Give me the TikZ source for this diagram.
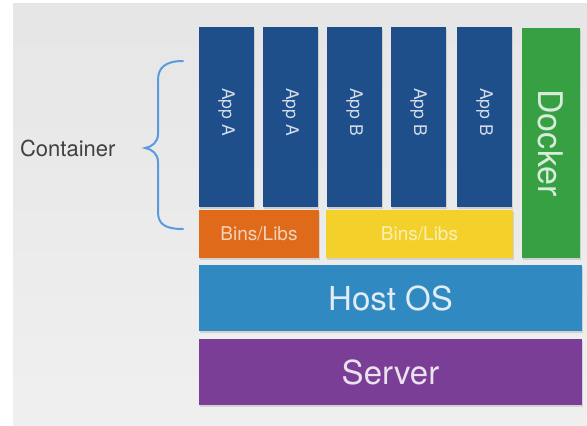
\documentclass[tikz,border=0pt]{standalone}
\usepackage{fontspec}
\setmainfont{TeX Gyre Heros}
\usetikzlibrary{positioning,shadows}
\definecolor{appblue}{HTML}{1E4F8A}
\definecolor{dockgreen}{HTML}{36A043}
\definecolor{libsorange}{HTML}{DE6A1A}
\definecolor{libsyellow}{HTML}{F4D12A}
\definecolor{hostblue}{HTML}{3189C1}
\definecolor{serverpurple}{HTML}{7A3E96}
\definecolor{bracecol}{HTML}{5A9BE0}
\tikzset{%
	block/.style    = {rectangle, inner sep=0pt, text centered, drop shadow={opacity=0.25, shadow xshift=1pt, shadow yshift=-1.5pt}},
	appbox/.style   = {block, fill=appblue, text=appblue!20!white, rotate=-90, minimum width=180pt, minimum height=55pt, font=\fontsize{17.5}{20}\selectfont},
	libbox/.style   = {block, minimum height=48pt, font=\fontsize{19}{22}\selectfont},
	layerbox/.style = {block, minimum width=383pt, minimum height=66pt, font=\fontsize{33}{36}\selectfont},
}
\begin{document}
\begin{tikzpicture}[x=1pt,y=-1pt]
		% background
		\useasboundingbox (0,0) rectangle (587,426);
		\fill[white] (0,0) rectangle (587,426);
		\shade[top color=black!10, bottom color=black!6] (13,3) rectangle (587,426);
		
		% containers
		\foreach \i/\x/\t in {1/226.5/A,2/290.5/A,3/354.5/B,4/418.5/B,5/484.5/B}
			\node[appbox] (app\i) at (\x,117) {App \t\hspace*{10pt}};
		
		\node[libbox, fill=libsorange, text=libsorange!30!white, minimum width=120pt] (libsA) at (259,234) {Bins/Libs};
		\node[libbox, fill=libsyellow, text=libsyellow!35!white, minimum width=187pt] (libsB) at (419.5,234) {Bins/Libs};
		
		\node[block, fill=dockgreen, text=dockgreen!20!white, rotate=-90, minimum width=230pt, minimum height=58pt, font=\fontsize{34}{38}\selectfont] (docker) at (551,143) {Docker};
		
		% layers
		\node[layerbox, fill=hostblue, text=hostblue!15!white] (host) at (390.5,298) {Host OS};
		\node[layerbox, fill=serverpurple, text=serverpurple!15!white] (server) at (390.5,372) {Server};
		
		% brace
		\node[anchor=east, text=black!75, font=\fontsize{22}{26}\selectfont] (container) at (119,148) {Container};
		\draw[bracecol, line width=2pt, line cap=round] (183,61) .. controls (165,61) and (158,68) .. (158,80) -- (158,134) .. controls (158,142) and (152,147) .. (145,148) .. controls (152,149) and (158,154) .. (158,162) -- (158,212) .. controls (158,224) and (165,229) .. (183,229);
		
\end{tikzpicture}
\end{document}
